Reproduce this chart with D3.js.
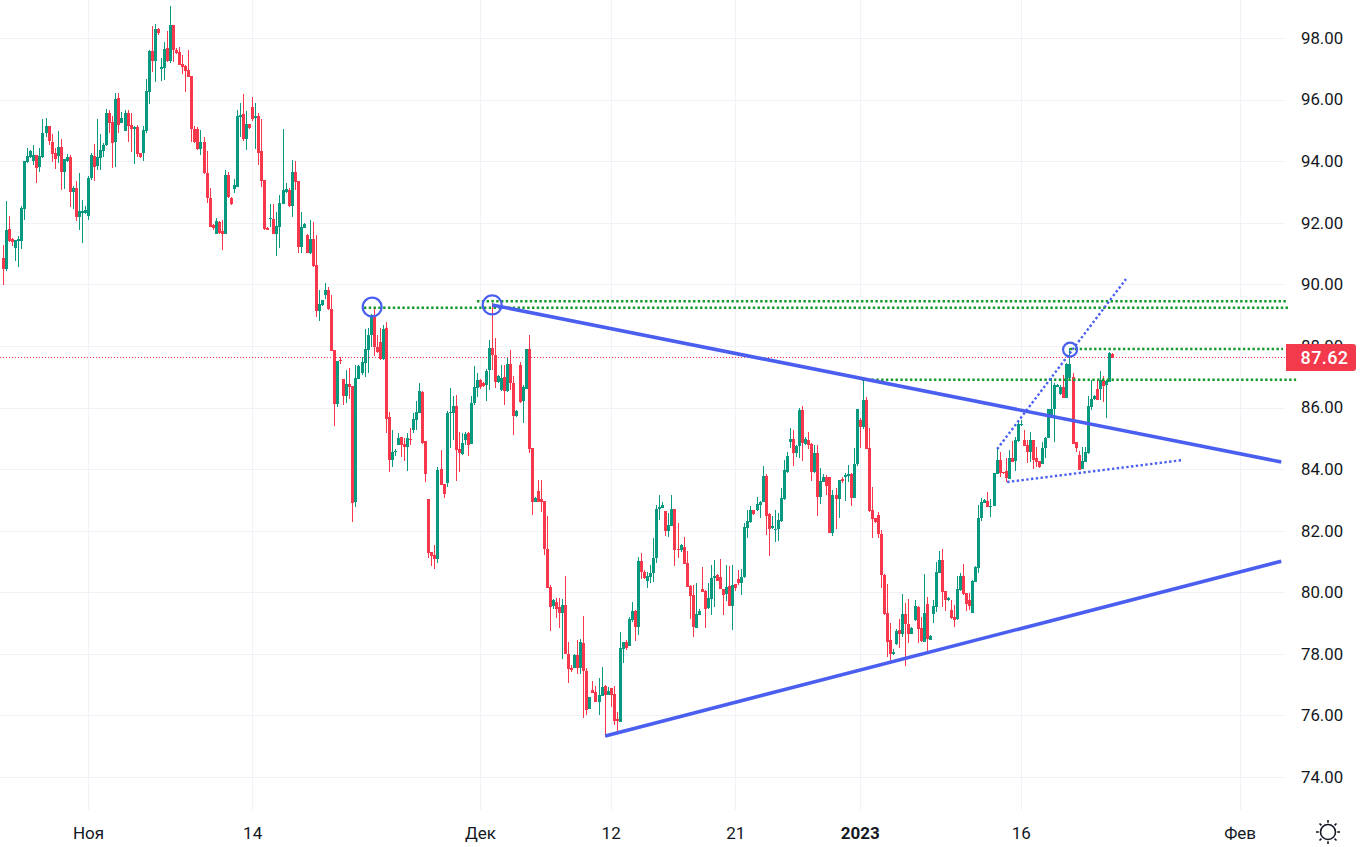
<!DOCTYPE html>
<html><head><meta charset="utf-8">
<script src="https://cdnjs.cloudflare.com/ajax/libs/d3/7.8.5/d3.min.js"></script>
<style>
html,body{margin:0;padding:0;background:#fff;overflow:hidden}
svg{display:block}
text{font-family:Roboto,"Noto Sans",sans-serif;fill:#131722}
</style></head><body>
<div id="chart"></div>
<script>
// Each row: [open, high, low, close]
const barsA = [
[90.84,91.28,89.98,90.50],[90.50,92.71,90.44,91.76],[91.80,92.22,91.39,91.42],[91.46,91.49,91.24,91.36],[91.19,91.44,90.76,91.44],[91.41,91.57,90.57,91.46],[91.42,92.54,91.16,92.47],[92.46,93.99,92.09,93.99],[93.98,94.42,93.93,94.17],[94.15,94.36,94.09,94.33],
[94.00,94.52,93.87,94.20],[94.20,94.20,93.30,93.79],[93.82,94.42,93.66,94.17],[94.15,95.37,94.09,94.90],[94.90,95.41,94.77,95.14],[95.14,95.14,94.52,94.65],[94.62,94.88,93.98,94.24],[94.25,94.42,93.75,94.07],[94.17,94.98,93.93,94.46],[94.46,94.72,93.06,93.66],
[93.66,94.07,93.11,94.07],[93.99,94.23,93.98,94.14],[94.13,94.20,92.52,93.00],[93.00,93.20,92.44,93.13],[93.12,93.35,92.06,92.19],[92.19,93.62,91.76,92.38],[92.32,92.75,91.33,92.38],[92.32,92.54,92.30,92.41],[92.21,93.51,92.10,93.45],[93.44,94.27,93.38,94.20],
[94.17,94.55,93.35,93.82],[93.84,95.37,93.71,94.12],[94.11,94.87,93.71,94.36],[94.34,94.58,94.14,94.54],[94.52,95.68,94.50,95.56],[95.56,95.66,94.90,95.24],[95.27,95.47,93.79,94.60],[94.62,96.20,93.82,96.01],[96.05,96.20,94.93,95.19],[95.24,95.60,95.24,95.41],
[94.99,95.66,94.98,95.56],[95.56,95.66,94.63,95.15],[95.17,95.55,94.30,95.03],[95.03,95.14,93.90,95.10],[95.10,95.17,94.14,94.23],[94.28,94.28,94.09,94.12],[94.25,95.14,94.01,95.01],[94.99,96.66,94.92,96.27],[96.25,97.61,95.85,97.57],[97.57,98.39,96.90,97.26],
[97.26,98.45,96.58,98.29],[98.29,98.31,98.09,98.17],[97.00,97.34,96.61,97.05],[97.01,97.86,96.63,97.64],[97.66,98.22,97.23,97.26],[97.25,99.04,97.19,98.42],[98.42,98.42,97.23,97.61],[97.61,97.66,97.48,97.50],[97.54,97.71,97.12,97.13],[97.15,97.44,96.83,97.07],
[97.09,97.12,96.25,96.94],[96.96,97.61,96.72,96.74],[96.76,96.76,94.63,95.06]
];
const barsB = [
[95.04,95.15,94.58,94.61],[95.04,95.12,94.36,94.39],[94.39,95.01,94.20,94.61],[94.61,94.79,93.58,93.60],[93.60,94.33,92.63,92.81],[92.79,93.12,91.85,91.87],[91.92,91.95,91.78,91.82],[91.63,92.14,91.63,92.05],[92.02,92.05,91.65,91.67],[91.73,92.09,91.11,91.63],
[91.63,93.71,91.63,93.55],[93.55,93.66,92.81,92.84],[92.82,92.84,92.57,92.60],[93.11,93.41,92.95,93.22],[93.17,95.66,93.17,95.47],[95.44,95.88,94.79,95.50],[95.53,96.18,94.65,94.71],[94.72,95.64,94.36,95.21],[95.21,95.21,95.06,95.08],[95.77,96.09,95.30,95.37],
[95.41,95.88,94.38,95.47],[95.47,95.55,93.87,94.27],[94.33,95.37,93.17,93.36],[93.39,93.39,91.78,91.79],[91.83,91.87,91.76,91.76],[92.12,92.61,91.87,92.15],[92.12,92.61,91.63,91.63],[91.65,92.36,90.93,91.89],[91.87,92.90,91.17,92.63],[92.61,95.04,92.61,93.06],
[93.01,93.28,92.95,93.09],[93.06,93.12,92.50,92.55],[92.55,94.04,92.19,93.65],[93.65,94.01,93.06,93.33],[93.35,93.35,91.03,91.22],[91.21,92.36,91.03,91.86],[91.84,92.00,91.82,91.97],[91.60,91.63,91.03,91.03],[91.03,92.09,91.00,91.47],[91.47,92.03,90.57,90.60],
[90.62,91.60,88.95,89.14],[89.14,89.81,88.82,89.35],[89.33,89.49,89.29,89.49],[89.65,90.05,89.51,89.81],[89.81,89.90,89.16,89.20]
];
const barsC = [
[89.20,89.65,87.84,87.84],[87.87,87.87,85.41,86.11],[86.11,87.51,86.03,87.51],[87.54,87.65,87.41,87.51],[86.92,86.92,86.08,86.37],[86.37,87.22,86.13,86.76],[86.76,87.27,86.27,86.66],[86.70,86.70,82.29,82.91],[82.94,87.38,82.78,86.95],[86.92,87.38,86.92,87.35],
[87.11,87.65,87.05,87.48],[87.43,88.54,87.00,87.89],[87.87,88.57,87.11,88.35],[88.34,89.04,87.97,89.00],[89.00,89.22,87.67,87.95],[87.97,88.35,87.76,87.79],[88.14,88.57,87.54,87.56],[87.56,88.68,87.54,88.55],[88.58,88.79,85.16,85.62],[85.69,85.86,83.91,84.29],
[84.29,85.27,84.08,84.55],[84.55,84.64,84.43,84.60],[84.78,85.16,84.78,85.00],[85.03,85.05,84.40,84.78],[84.83,85.00,84.27,84.73],[84.73,85.16,83.95,85.00],[84.98,85.32,84.78,84.94],[85.27,85.81,85.16,85.62],[85.59,86.21,85.27,85.85],[85.81,86.81,85.81,86.53],
[86.51,86.53,84.83,84.86],[84.90,84.90,83.58,83.85],[83.03,83.03,81.10,81.28],[81.32,81.32,80.85,81.19],[81.21,81.53,80.76,81.09],[81.09,84.08,80.96,83.97],[84.00,84.62,83.48,83.48],[83.52,83.52,83.06,83.19],[83.54,85.90,83.41,85.82],[85.81,86.64,84.67,85.86],
[85.81,86.37,84.94,86.05],[86.05,86.41,83.62,84.62],[84.66,85.21,83.91,84.51],[84.49,85.16,84.46,84.86],[84.94,85.21,84.78,85.14],[85.16,85.21,84.43,84.78],[84.82,86.37,84.81,86.14],[86.13,87.35,86.08,86.67],[86.64,87.11,86.35,86.89],[86.89,86.91,86.59,86.68],
[86.78,86.84,86.65,86.70],[86.72,87.24,86.22,87.18],[87.22,88.19,86.57,87.93],[87.93,89.38,87.22,87.70],[87.70,88.25,86.64,86.84],[86.84,87.05,86.80,87.02],[86.57,87.38,86.54,86.97],[86.98,87.38,86.08,86.54],[86.54,87.60,86.51,87.41],[87.41,87.87,86.57,86.78],
[86.78,87.02,85.10,85.72],[85.72,85.92,85.70,85.89],[87.38,87.49,86.16,86.19],[86.21,86.73,85.50,86.65],[86.60,87.90,86.60,87.90],[87.90,88.35,84.53,84.66]
];
const barsD = [
[84.67,84.67,82.51,82.94],[82.94,83.10,82.94,83.05],[83.29,83.64,82.94,82.94],[83.02,83.64,82.62,82.94],[82.96,82.96,81.21,81.42],[81.42,82.47,80.13,80.15],[80.17,80.23,78.75,79.53],[79.55,79.78,79.47,79.74],[79.67,79.80,79.15,79.47],[79.51,79.80,78.85,79.31],
[79.31,79.77,77.83,79.58],[79.58,80.53,77.99,77.99],[78.01,78.39,77.04,77.51],[77.54,77.63,77.42,77.47],[77.55,78.01,77.53,77.96],[77.96,78.45,77.33,77.54],[77.54,78.47,77.36,78.38],[78.36,79.23,75.90,77.45],[77.45,77.53,76.01,76.19],[76.22,76.61,76.22,76.61],
[76.82,77.11,76.74,76.74],[76.76,76.95,76.44,76.44],[76.44,77.22,76.01,76.66],[76.64,77.56,76.64,76.92],[76.95,76.99,75.31,76.66],[76.67,76.93,76.67,76.80],[76.89,76.89,76.28,76.66],[76.69,76.95,75.69,75.83],[75.87,76.12,75.44,75.82],[75.79,78.72,75.79,78.18],
[78.15,78.39,77.71,78.39],[78.39,78.45,78.14,78.18],[78.26,79.20,78.25,79.13],[79.10,79.67,79.04,79.39],[79.39,79.42,78.41,78.88],[78.88,81.13,78.61,81.01],[81.01,81.28,80.42,80.67],[80.67,80.72,80.42,80.45],[80.37,80.67,80.15,80.53],[80.50,80.88,80.29,80.61],
[80.61,81.77,80.34,81.11],[81.10,82.83,80.94,82.70],[82.70,83.16,82.34,82.76],[82.72,82.94,82.72,82.83],[82.64,82.64,81.84,82.00],[82.00,82.58,81.80,82.18],[82.15,83.16,82.15,82.70],[82.70,82.70,80.85,81.37],[81.39,82.24,81.10,81.37],[81.37,81.57,81.32,81.53],
[81.48,81.78,80.92,80.92],[80.94,81.34,80.18,80.18],[80.21,80.23,79.13,79.89],[79.91,80.23,78.55,78.88]
];
const barsE = [
[78.85,80.29,78.85,79.28],[79.26,79.47,79.26,79.39],[80.10,80.83,80.02,80.02],[80.05,80.07,78.85,79.47],[79.49,80.29,79.47,79.80],[79.78,80.88,79.26,80.45],[80.45,81.04,79.53,80.54],[80.56,80.59,80.37,80.37],[80.50,81.08,80.10,80.10],[80.12,80.12,79.26,79.91],
[79.94,80.90,79.72,80.16],[80.20,80.85,79.55,79.55],[79.55,80.90,78.77,80.25],[80.27,80.27,80.05,80.14],[80.43,80.72,80.23,80.29],[80.29,80.77,79.91,80.48],[80.48,82.24,80.45,82.11],[82.09,82.67,81.75,82.31],[82.29,82.80,82.26,82.67],[82.67,82.67,82.51,82.53],
[82.67,83.10,82.65,82.85],[82.83,82.97,82.40,82.94],[82.94,84.10,82.94,83.77],[83.77,83.84,81.86,82.48],[82.54,82.56,81.19,82.05],[82.09,82.48,82.07,82.15],[82.02,82.67,81.64,82.07],[82.07,82.58,81.67,82.34],[82.31,83.40,82.29,83.05],[83.03,84.31,82.99,83.97],
[83.91,84.54,83.88,84.42],[84.89,85.32,84.69,84.98],[84.98,85.27,84.10,84.51],[84.53,84.78,84.40,84.75],[84.75,85.97,84.35,85.93],[85.92,86.05,84.27,84.86],[84.81,85.05,84.78,84.98],[84.94,85.21,84.65,84.78],[84.81,84.86,83.61,83.91],[83.91,84.78,83.88,84.51],
[84.51,84.78,82.48,83.10],[83.10,84.05,82.86,83.61],[83.59,83.84,83.57,83.75],[83.73,83.81,83.15,83.45],[83.73,83.73,81.91,81.93],[81.91,83.32,81.83,83.15],[83.15,83.37,82.07,83.03],[83.03,83.66,82.42,83.66],[83.68,83.75,83.56,83.61],[83.75,83.86,82.97,83.80],
[83.77,84.13,83.59,83.84],[83.84,83.88,82.80,83.07],[83.07,84.70,83.05,84.18],[84.16,85.94,84.10,85.94],[85.59,85.65,84.70,85.38],[85.38,86.95,85.29,86.24],[86.24,86.33,84.64,84.66],[84.67,85.32,82.61,82.64]
];
const barsF = [
[82.67,83.41,81.77,82.37],[82.40,82.42,82.24,82.29],[82.51,82.61,81.77,81.88],[81.89,82.02,80.15,80.56],[80.56,80.59,79.26,79.29],[79.31,80.27,77.90,78.39],[78.45,78.99,77.74,77.99],[77.99,78.15,77.96,78.05],[78.32,78.80,78.28,78.75],[78.77,79.13,78.18,78.64],
[78.64,79.94,78.55,79.28],[79.28,79.64,77.60,78.96],[78.97,79.77,78.36,78.66],[78.64,78.88,78.64,78.84],[79.10,79.75,79.07,79.55],[79.53,79.55,78.36,78.81],[78.84,79.20,78.39,78.43],[78.39,80.59,78.39,79.31],[79.62,79.85,78.07,78.49],[78.45,78.61,78.45,78.58],
[79.29,79.75,78.99,79.55],[79.53,80.99,79.37,80.66],[80.63,81.34,80.61,81.05],[81.05,81.40,79.53,80.02],[80.04,80.04,79.40,79.75],[79.75,79.85,79.71,79.82],[79.42,79.75,79.12,79.17],[79.20,79.58,78.88,79.10],[79.13,80.52,79.10,80.12],[80.07,80.63,80.05,80.52],
[80.52,80.91,79.92,79.94],[79.96,79.96,79.40,79.62],[79.75,79.96,79.42,79.55],[79.33,80.39,79.33,80.36],[80.34,80.85,80.34,80.82],[80.80,82.83,80.64,82.40],[82.40,83.05,82.31,82.93],[82.91,83.03,82.89,82.99],[82.95,83.24,82.76,82.78],[82.78,83.02,82.43,82.81],
[82.80,83.88,82.80,83.86]
];
const barsG = [
[83.84,84.67,83.84,84.29],[84.29,84.56,83.75,83.86],[83.91,83.91,83.84,83.86],[83.94,84.35,83.59,83.72],[83.68,84.62,83.68,84.35],[84.35,84.92,84.24,84.24],[84.27,85.05,83.95,84.94],[84.91,85.54,84.89,85.45],[85.43,85.59,85.40,85.48],[84.96,85.27,84.76,84.76],
[84.78,84.94,84.19,84.57],[84.55,85.19,84.24,84.96],[84.96,84.96,83.99,84.29],[84.35,84.73,84.08,84.24],[84.26,84.26,84.05,84.08],[84.16,84.89,84.16,84.70],[84.69,85.03,84.35,85.02],[85.00,85.94,85.00,85.94],[85.67,86.95,85.67,85.94],[85.94,86.78,84.89,86.73],
[86.68,86.76,86.65,86.73],[86.44,86.73,86.40,86.65],[86.65,87.05,86.30,86.32],[86.32,87.43,86.30,87.41],[86.95,87.92,86.91,87.41],[86.98,87.11,84.81,84.83],[84.87,84.87,84.54,84.69],[84.46,84.60,83.97,83.97],[83.99,84.73,83.99,84.26],[84.24,84.73,84.24,84.56],
[84.51,86.38,84.49,86.05],[86.03,86.89,85.92,86.27],[86.27,86.40,86.24,86.38],[86.59,86.89,86.24,86.24],[86.59,87.20,86.24,86.89],[86.89,87.02,86.19,86.71],[86.73,86.89,85.67,86.87],[86.84,87.81,86.84,87.78],[87.74,87.76,87.60,87.62]
];
const priceTicks = [74,76,78,80,82,84,86,88,90,92,94,96,98];
const timeTickBars = [28,82,157,200,241,282,335,407];
const timeTickLabels = ["Ноя","14","Дек","12","21","2023","16","Фев"];
const lastPrice = 87.62;
// [barFrom, priceFrom, barTo, priceTo]
const solidTrendLines = [[161,89.33,420.7,84.23],[198.2,75.33,420.7,81.01]];
const greenLevels = [[156,89.45,423,89.45],[118.8,89.24,423,89.24],[351.2,87.90,421.3,87.90],[282.7,86.90,425.6,86.90]];
const dottedTrendLines = [[327.2,84.65,369.6,90.17],[330.5,83.58,388,84.29]];
// [bar, price, radius]
const markers = [[121.5,89.26,9.5],[161,89.33,9.5],[351.2,87.88,7]];

const W=1360,H=847,PLOT_R=1285,AXIS_Y=810;
const UP="#089981",DOWN="#f7374b",BLUE="#4a5ff0",GREEN="#129a2a",GRID="#f0f2f7";
const bars=[].concat(barsA,barsB,barsC,barsD,barsE,barsF,barsG);
const x=d3.scaleLinear().domain([0,bars.length-1]).range([3,1112]);
const y=d3.scaleLinear().domain([74,98]).range([777,38]);
const svg=d3.select("#chart").append("svg").attr("width",W).attr("height",H);

const grid=svg.append("g").attr("stroke",GRID).attr("stroke-width",1);
grid.selectAll(".h").data(priceTicks).join("line").attr("x1",0).attr("x2",PLOT_R)
  .attr("y1",d=>Math.round(y(d))+.5).attr("y2",d=>Math.round(y(d))+.5);
grid.selectAll(".v").data(timeTickBars).join("line").attr("y1",0).attr("y2",AXIS_Y)
  .attr("x1",d=>Math.round(x(d))+.5).attr("x2",d=>Math.round(x(d))+.5);

// last price line under candles
svg.append("line").attr("x1",0).attr("x2",PLOT_R).attr("y1",Math.floor(y(lastPrice))+.5).attr("y2",Math.floor(y(lastPrice))+.5)
  .attr("stroke",DOWN).attr("stroke-width",1).attr("stroke-dasharray","1 2");

const candle=svg.append("g").selectAll("g").data(bars).join("g")
  .attr("fill",d=>d[3]>=d[0]?UP:DOWN).attr("shape-rendering","crispEdges");
candle.append("rect").attr("x",(d,i)=>Math.round(x(i))).attr("width",1)
  .attr("y",d=>Math.round(y(d[1]))).attr("height",d=>Math.max(1,Math.round(y(d[2]))-Math.round(y(d[1]))));
candle.append("rect").attr("x",(d,i)=>Math.round(x(i))-1).attr("width",3)
  .attr("y",d=>Math.round(y(Math.max(d[0],d[3]))))
  .attr("height",d=>Math.max(1,Math.round(y(Math.min(d[0],d[3])))-Math.round(y(Math.max(d[0],d[3])))));

const seg=(sel,data,stroke,w,dash)=>sel.selectAll("line").data(data).join("line")
  .attr("x1",d=>x(d[0])).attr("y1",d=>y(d[1])).attr("x2",d=>x(d[2])).attr("y2",d=>y(d[3]))
  .attr("stroke",stroke).attr("stroke-width",w).attr("stroke-dasharray",dash);
seg(svg.append("g"),greenLevels,GREEN,2.4,"2.4 2.4");
seg(svg.append("g"),dottedTrendLines,BLUE,2.4,"2.4 2.4");
seg(svg.append("g"),solidTrendLines,BLUE,3.6,null);
svg.append("g").selectAll("circle").data(markers).join("circle")
  .attr("cx",d=>x(d[0])).attr("cy",d=>y(d[1])).attr("r",d=>d[2])
  .attr("fill","none").attr("stroke",BLUE).attr("stroke-width",2.2);

// axes
const yAxis=d3.axisRight(y).tickValues(priceTicks).tickFormat(d3.format(".2f")).tickSize(0).tickPadding(0);
const ya=svg.append("g").attr("transform","translate(1301,0)").call(yAxis);
ya.select(".domain").remove();
ya.selectAll("text").style("font-size","16.8px").style("fill","#131722");
const xAxis=d3.axisBottom(x).tickValues(timeTickBars).tickFormat((d,i)=>timeTickLabels[i]).tickSize(0).tickPadding(0);
const xa=svg.append("g").attr("transform","translate(0,827)").call(xAxis);
xa.select(".domain").remove();
xa.selectAll("text").style("font-size","17px").style("fill","#131722")
  .style("font-weight",(d,i)=>timeTickLabels[i]==="2023"?"700":"400");

// last-price badge
svg.append("path").attr("fill","#f23a4c")
  .attr("d","M1286 344H1353a3 3 0 0 1 3 3V368a3 3 0 0 1 -3 3H1286Z");
svg.append("text").attr("x",1324.5).attr("y",363.5).attr("text-anchor","middle")
  .style("fill","#fff").style("font-size","18px").style("font-weight","500").style("letter-spacing",".4px")
  .text(d3.format(".2f")(lastPrice));

// theme icon
const icon=svg.append("g").attr("transform","translate(1328,832)").attr("stroke","#131722").attr("fill","none").attr("stroke-width",1.6);
icon.append("circle").attr("r",7.5);
d3.range(8).forEach(k=>{const a=k*Math.PI/4;
  icon.append("line").attr("x1",9.3*Math.cos(a)).attr("y1",9.3*Math.sin(a)).attr("x2",12*Math.cos(a)).attr("y2",12*Math.sin(a));});
</script>
</body></html>
